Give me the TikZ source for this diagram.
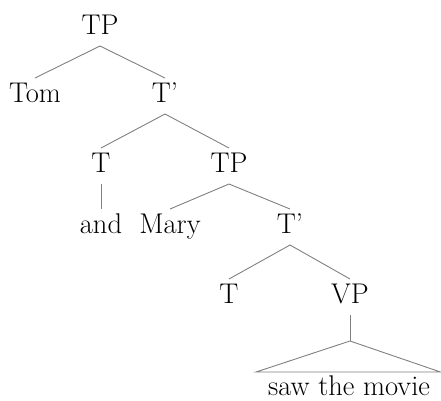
\documentclass[tikz,border=0pt]{standalone}
\begin{document}
\begin{tikzpicture}[x=1pt,y=-1pt,
  lbl/.style={anchor=base,inner sep=0pt,outer sep=0pt,font=\fontsize{28.5}{34}\selectfont,text height=19pt,text depth=7pt,inner ysep=5pt},
  br/.style={draw=black!50,line width=0.9pt}]
\useasboundingbox (0,0) rectangle (441,400);
\node[lbl] (tp1) at (100,34) {TP};
\node[lbl] (tom) at (35,102) {Tom};
\node[lbl] (tb1) at (165,102) {T'};
\node[lbl] (t1) at (101,172) {T};
\node[lbl] (tp2) at (229,172) {TP};
\node[lbl] (and) at (101,233) {and};
\node[lbl] (mary) at (170,233) {Mary};
\node[lbl] (tb2) at (290,233) {T'};
\node[lbl] (t2) at (229,303) {T};
\node[lbl] (vp) at (350,303) {VP};
\node[lbl,text height=23pt,text depth=0pt,inner ysep=0pt] (smov) at (349,395) {saw the movie};
\coordinate (apex) at (350,341);
\coordinate (bl) at (256,372);
\coordinate (brr) at (440.5,372);
\draw[br] (tom.north) -- (tp1.south) -- (tb1.north);
\draw[br] (t1.north) -- (tb1.south) -- (tp2.north);
\draw[br] (t1.south) -- (and.north);
\draw[br] (mary.north) -- (tp2.south) -- (tb2.north);
\draw[br] (t2.north) -- (tb2.south) -- (vp.north);
\draw[br] (vp.south) -- (apex);
\draw[br] (apex) -- (bl) -- (brr) -- cycle;
\end{tikzpicture}
\end{document}
